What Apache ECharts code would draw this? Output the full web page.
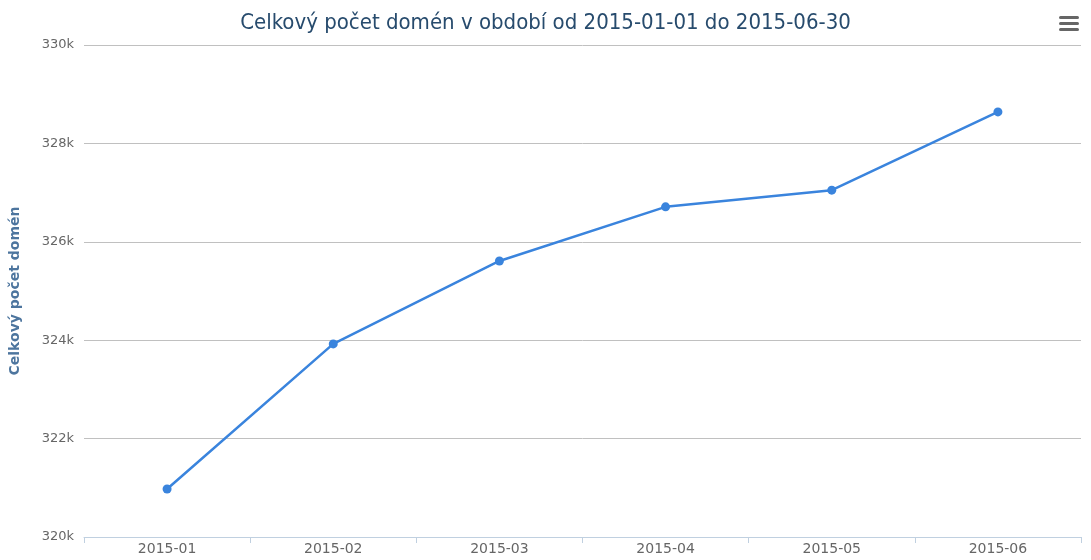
<!DOCTYPE html>
<html>
<head>
<meta charset="utf-8">
<script src="https://cdn.jsdelivr.net/npm/echarts@6/dist/echarts.min.js"></script>
<style>
  html, body { margin: 0; padding: 0; background: #fff; }
  #chart { width: 1091px; height: 560px; }
</style>
</head>
<body>
<div id="chart"></div>
<script>
// Months on the x-axis
const months = ['2015-01', '2015-02', '2015-03', '2015-04', '2015-05', '2015-06'];
// Total number of domains per month
const domainCounts = [320975, 323925, 325610, 326710, 327050, 328640];

const myChart = echarts.init(document.getElementById('chart'));

const options = {
  animation: false,
  title: {
    text: 'Celkový počet domén v období od 2015-01-01 do 2015-06-30',
    left: 'center',
    top: 7,
    textStyle: {
      fontFamily: 'DejaVu Sans Condensed',
      fontSize: 22,
      fontWeight: 'normal',
      color: '#274b6d',
    },
  },
  grid: { left: 82, right: 10, top: 45, bottom: 23, containLabel: false },
  xAxis: {
    type: 'category',
    data: months,
    axisLine: { lineStyle: { color: '#c0d0e0' } },
    axisTick: { show: true, alignWithLabel: false, length: 6, lineStyle: { color: '#c0d0e0' } },
    axisLabel: { color: '#666', fontSize: 14, margin: 5, fontFamily: 'DejaVu Sans' },
  },
  yAxis: {
    type: 'value',
    min: 320000,
    max: 330000,
    interval: 2000,
    name: 'Celkový počet domén',
    nameLocation: 'middle',
    nameGap: 62,
    nameTextStyle: { color: '#4d759e', fontWeight: 'bold', fontSize: 14, fontFamily: 'DejaVu Sans' },
    axisLine: { show: false },
    axisTick: { show: false },
    axisLabel: {
      color: '#666',
      fontSize: 13,
      margin: 10,
      fontFamily: 'DejaVu Sans',
      formatter: (v) => v / 1000 + 'k',
    },
    splitLine: { lineStyle: { color: '#c0c0c0' } },
  },
  series: [
    {
      name: 'Celkový počet domén',
      type: 'line',
      data: domainCounts,
      symbol: 'circle',
      symbolSize: 9,
      lineStyle: { color: '#3a84dd', width: 2.5 },
      itemStyle: { color: '#3a84dd' },
    },
  ],
  // menu icon in the top right corner
  graphic: [
    { type: 'rect', right: 12, top: 16, shape: { width: 20, height: 3, r: 1.5 }, style: { fill: '#666' } },
    { type: 'rect', right: 12, top: 22, shape: { width: 20, height: 3, r: 1.5 }, style: { fill: '#666' } },
    { type: 'rect', right: 12, top: 28, shape: { width: 20, height: 3, r: 1.5 }, style: { fill: '#666' } },
  ],
};

myChart.setOption(options);
</script>
</body>
</html>
